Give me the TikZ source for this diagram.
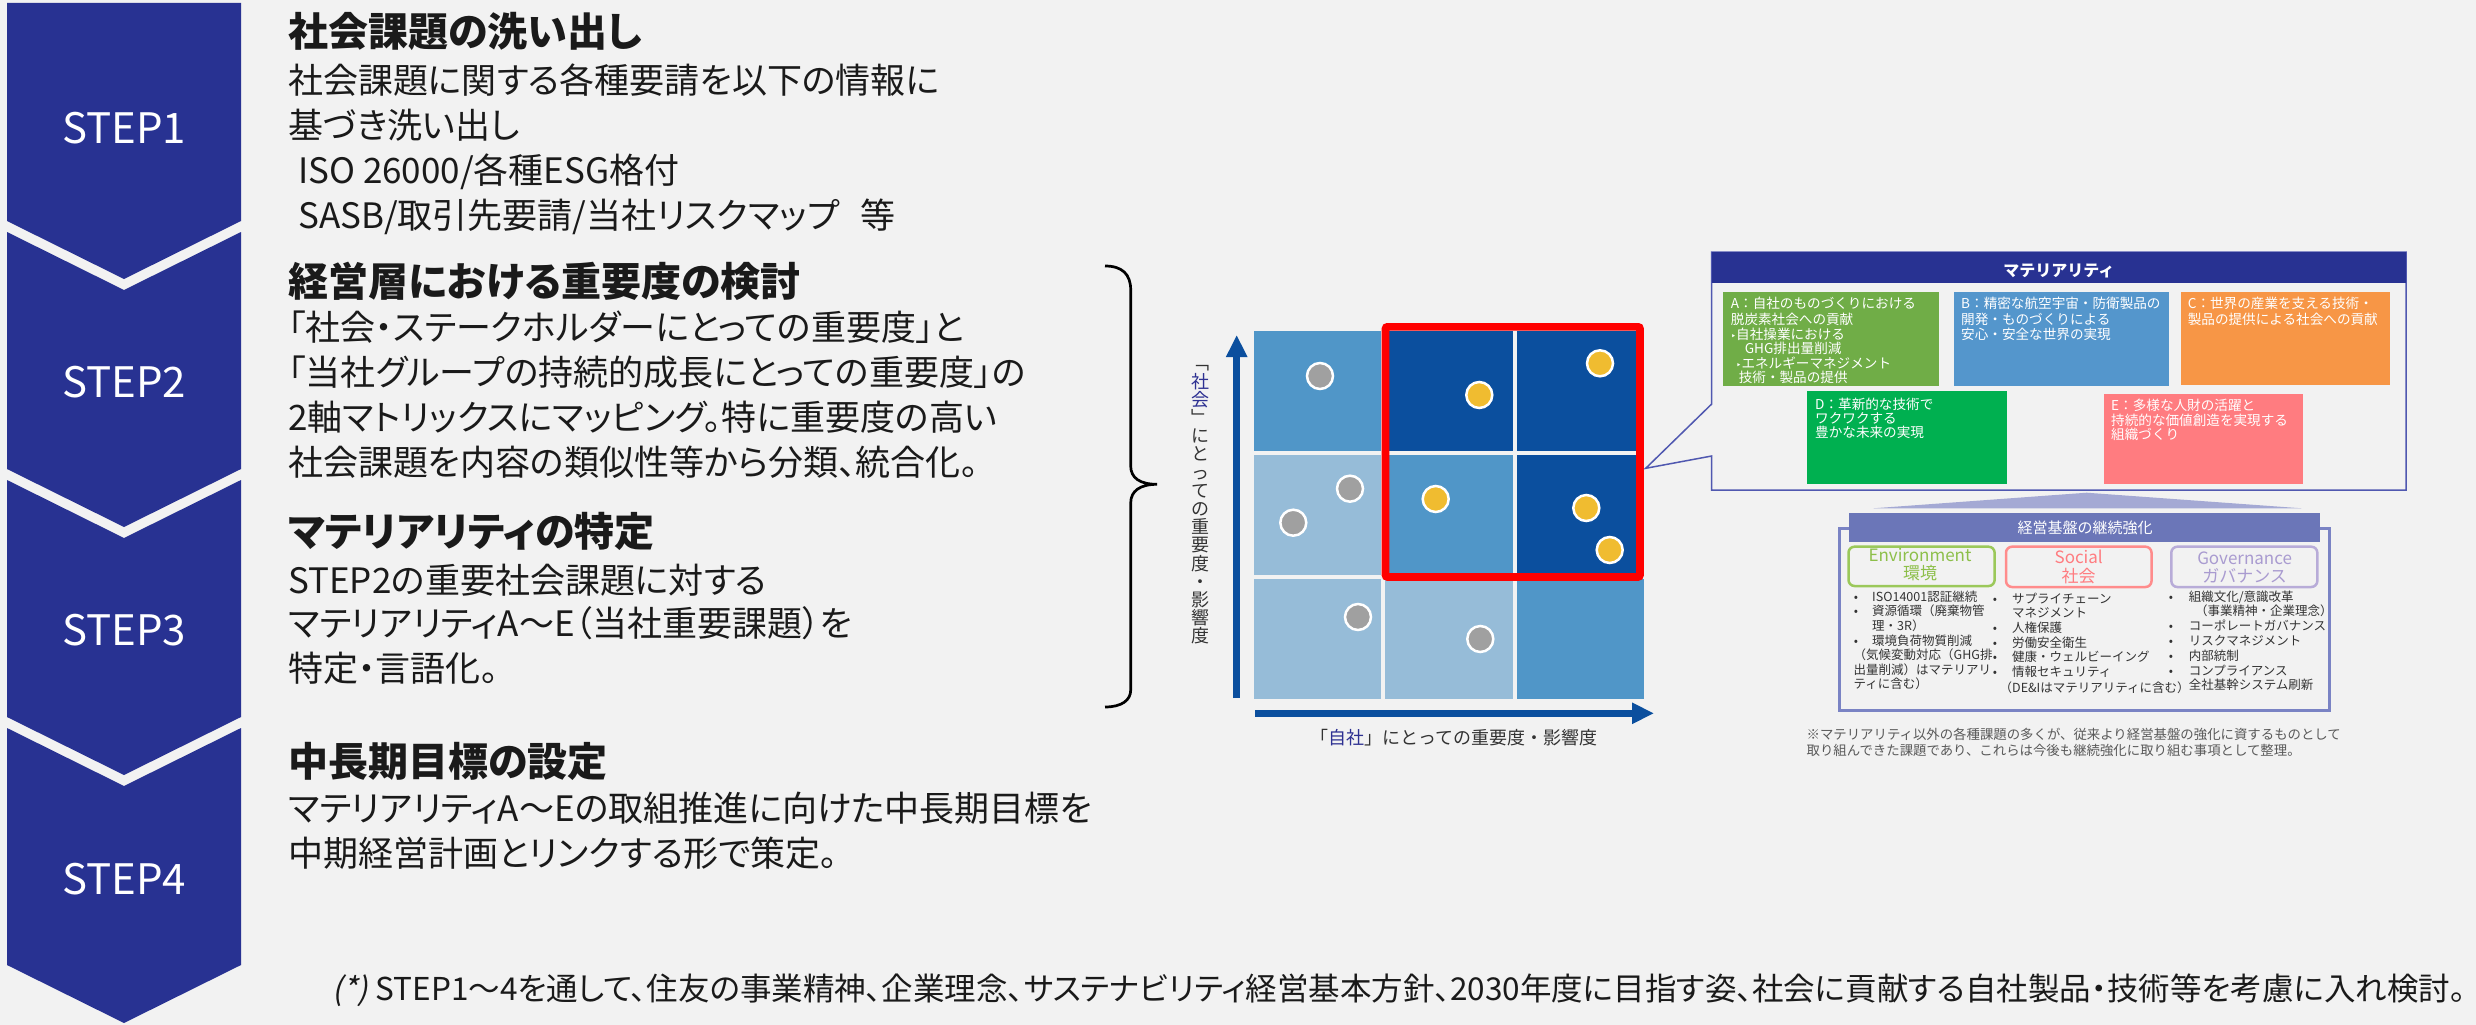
\documentclass[tikz,border=0pt]{standalone}
\usepackage{fontspec}
\usetikzlibrary{arrows.meta}
\setmainfont{Noto Sans CJK JP}[RawFeature=+palt]
\newfontfamily\jpm{Noto Sans CJK JP}
\newfontfamily\jpsl{Noto Sans CJK JP}[FakeSlant=0.2]
\newfontfamily\dv{DejaVu Sans}
\newcommand\fsz[1]{\fontsize{#1}{#1}\selectfont}
\definecolor{bg}{RGB}{242,242,242}
\definecolor{navy}{RGB}{40,50,146}
\definecolor{body}{RGB}{26,26,26}
\definecolor{mdark}{RGB}{11,79,158}
\definecolor{mmid}{RGB}{80,150,200}
\definecolor{mlight}{RGB}{150,188,216}
\definecolor{axtxt}{RGB}{51,51,51}
\definecolor{lblue}{RGB}{46,49,146}
\definecolor{cgray}{RGB}{160,160,160}
\definecolor{cyel}{RGB}{240,188,48}
\definecolor{cbord}{RGB}{80,88,176}
\definecolor{boxA}{RGB}{112,173,71}
\definecolor{boxB}{RGB}{84,150,204}
\definecolor{boxC}{RGB}{247,150,70}
\definecolor{boxD}{RGB}{0,176,80}
\definecolor{boxE}{RGB}{255,124,128}
\definecolor{hdr2}{RGB}{107,118,184}
\definecolor{tri}{RGB}{164,169,212}
\definecolor{obord}{RGB}{122,131,196}
\definecolor{envc}{RGB}{155,200,90}
\definecolor{envt}{RGB}{141,191,74}
\definecolor{socc}{RGB}{255,140,140}
\definecolor{soct}{RGB}{255,124,128}
\definecolor{govc}{RGB}{184,172,216}
\definecolor{govt}{RGB}{169,155,208}
\definecolor{note}{RGB}{89,89,89}
\definecolor{red0}{RGB}{255,0,0}
\begin{document}
\begin{tikzpicture}[x=1pt,y=-1pt,
  chev/.style={fill=navy},
  steplbl/.style={anchor=base, inner sep=0pt, font={\fsz{42}}, text=white},
  ttl/.style={anchor=base west, inner sep=0pt, font={\fsz{40}\bfseries}, text=body},
  lt/.style={anchor=base west, inner sep=0pt, font={\fsz{35}}, text=body},
  mt/.style={anchor=base west, inner sep=0pt, font={\jpm\fsz{13.6}}, text=white},
  bl/.style={anchor=base west, inner sep=0pt, font={\jpm\fsz{12.5}}, text=axtxt},
  bu/.style={anchor=base, inner sep=0pt, font={\jpm\fsz{12.5}}, text=axtxt},
  cat/.style={anchor=base, inner sep=0pt, font={\jpm\fsz{17}}},
  cell/.style={fill=#1},
  dotg/.style={fill=cgray, draw=white, line width=2.5pt},
  doty/.style={fill=cyel, draw=white, line width=2.5pt},
  axis/.style={draw=mdark, line width=7pt, -{Triangle[length=22pt,width=20pt]}},
  mbox/.style={fill=#1},
  catbox/.style={draw=#1, line width=2.5pt, rounded corners=6pt},
  nt/.style={anchor=base west, inner sep=0pt, font={\jpm\fsz{13.4}}, text=note}
]
\useasboundingbox (0,0) rectangle (2476,1025);
\fill[bg] (0,0) rectangle (2476,1025);

% ---- chevrons
\fill[chev] (7,3) -- (241,3) -- (241,221) -- (124,279) -- (7,221) -- cycle;
\fill[chev] (7,232) -- (124,290) -- (241,232) -- (241,469) -- (124,527) -- (7,469) -- cycle;
\fill[chev] (7,480) -- (124,538) -- (241,480) -- (241,717) -- (124,775) -- (7,717) -- cycle;
\fill[chev] (7,728) -- (124,786) -- (241,728) -- (241,965) -- (124,1023) -- (7,965) -- cycle;
\node[steplbl] (st1) at (124,143.7) {STEP1};
\node[steplbl] (st2) at (124,397) {STEP2};
\node[steplbl] (st3) at (124,645.4) {STEP3};
\node[steplbl] (st4) at (124,894.2) {STEP4};

% ---- left texts
\node[ttl] (s1t) at (288,46.5) {社会課題の洗い出し};
\node[lt] (s1a) at (288,93) {社会課題に関する各種要請を以下の情報に};
\node[lt] (s1b) at (288,138) {基づき洗い出し};
\node[lt] (s1c) at (298,183) {ISO 26000/各種ESG格付};
\node[lt] (s1d) at (298,228) {SASB/取引先要請/当社リスクマップ\hspace{0.6em}等};

\node[ttl] (s2t) at (288,296.5) {経営層における重要度の検討};
\node[lt] (s2a) at (288,340.5) {「社会・ステークホルダーにとっての重要度」と};
\node[lt] (s2b) at (288,385.5) {「当社グループの持続的成長にとっての重要度」の};
\node[lt] (s2c) at (288,430.5) {2軸マトリックスにマッピング。特に重要度の高い};
\node[lt] (s2d) at (288,475.5) {社会課題を内容の類似性等から分類、統合化。};

\node[ttl] (s3t) at (288,546.8) {マテリアリティの特定};
\node[lt] (s3a) at (288,593.8) {STEP2の重要社会課題に対する};
\node[lt] (s3b) at (288,636.2) {マテリアリティA～E（当社重要課題）を};
\node[lt] (s3c) at (288,681.4) {特定・言語化。};

\node[ttl] (s4t) at (288,776.3) {中長期目標の設定};
\node[lt] (s4a) at (288,821.5) {マテリアリティA～Eの取組推進に向けた中長期目標を};
\node[lt] (s4b) at (288,866.6) {中期経営計画とリンクする形で策定。};

\node[anchor=base east, inner sep=0pt, font={\fsz{31.5}}, text=body] (foot) at (2466,1000)
  {{\jpsl(*)} STEP1～4を通して、住友の事業精神、企業理念、サステナビリティ経営基本方針、2030年度に目指す姿、社会に貢献する自社製品・技術等を考慮に入れ検討。};

% ---- bracket
\draw[black, line width=2.7pt] (1105,266) .. controls (1122,266) and (1130.7,274) .. (1130.7,290)
  -- (1130.7,466) .. controls (1130.7,478) and (1140,484.3) .. (1157,484.3)
  .. controls (1140,484.3) and (1130.7,491) .. (1130.7,503)
  -- (1130.7,690) .. controls (1130.7,700) and (1122,707) .. (1105,707);

% ---- matrix
\fill[cell=mmid]   (1254,331) rectangle (1381.3,451);
\fill[cell=mdark]  (1385.3,331) rectangle (1512.7,451);
\fill[cell=mdark]  (1516.7,331) rectangle (1644,451);
\fill[cell=mlight] (1254,455) rectangle (1381.3,575);
\fill[cell=mmid]   (1385.3,455) rectangle (1512.7,575);
\fill[cell=mdark]  (1516.7,455) rectangle (1644,575);
\fill[cell=mlight] (1254,579) rectangle (1381.3,699);
\fill[cell=mlight] (1385.3,579) rectangle (1512.7,699);
\fill[cell=mmid]   (1516.7,579) rectangle (1644,699);
\draw[red0, line width=7.6pt, rounded corners=2pt] (1385.5,326.8) rectangle (1640,577);
\fill[dotg] (1320,376) circle (13pt);
\fill[dotg] (1350,488.7) circle (13pt);
\fill[dotg] (1293.3,522.7) circle (13pt);
\fill[dotg] (1358,617) circle (13pt);
\fill[dotg] (1480.3,639) circle (13pt);
\fill[doty] (1479.3,395) circle (13pt);
\fill[doty] (1600,363.3) circle (13pt);
\fill[doty] (1435.7,499) circle (13pt);
\fill[doty] (1586.3,508) circle (13pt);
\fill[doty] (1609.7,550) circle (13pt);
\coordinate (yb) at (1236.7,698);
\coordinate (yt) at (1236.7,335);
\coordinate (xb) at (1255,713.3);
\coordinate (xt) at (1654,713.3);
\draw[axis] (yb) -- (yt);
\draw[axis] (xb) -- (xt);
\node[anchor=center, inner sep=0pt, align=center, font={\jpm\fontsize{18}{18.2}\selectfont}, text=axtxt] (ylab) at (1200,505)
  {﹁\\{\color{lblue}社}\\{\color{lblue}会}\\﹂\\に\\と\\っ\\て\\の\\重\\要\\度\\・\\影\\響\\度};
\node[anchor=base, inner sep=0pt, font={\jpm\fsz{18}}, text=axtxt] (xlab) at (1454,744.7)
  {「{\color{lblue}自社}」にとっての重要度・影響度};

% ---- materiality callout
\draw[cbord, line width=1.5pt, fill=bg] (1711.7,404) -- (1711.7,252) -- (2406,252) -- (2406,490)
  -- (1711.7,490) -- (1711.7,456) -- (1645.7,468.3) -- cycle;
\fill[navy] (1711.7,252) rectangle (2406,283);
\node[anchor=base, inner sep=0pt, font={\jpm\bfseries\fsz{16}}, text=white] (mhdr) at (2058.8,276.5) {マテリアリティ};

\fill[mbox=boxA] (1723.3,292.3) rectangle (1939,385.7);
\fill[mbox=boxB] (1953.5,292.3) rectangle (2168.8,385.7);
\fill[mbox=boxC] (2181,291.7) rectangle (2389.6,385);
\fill[mbox=boxD] (1807.4,391.3) rectangle (2007,484.3);
\fill[mbox=boxE] (2104,394) rectangle (2302.5,484.3);

\node[mt] (a1) at (1730.7,308.3) {A：自社のものづくりにおける};
\node[mt] (a2) at (1730.7,324.3) {脱炭素社会への貢献};
\node[mt] (a3) at (1730.7,339.3) {{\dv\fsz{9}‣}自社操業における};
\node[mt] (a4) at (1744.6,353.3) {GHG排出量削減};
\node[mt] (a5) at (1736,368.3) {{\dv\fsz{9}‣}エネルギーマネジメント};
\node[mt] (a6) at (1738.6,382.3) {技術・製品の提供};

\node[mt] (b1) at (1961,308.3) {B：精密な航空宇宙・防衛製品の};
\node[mt] (b2) at (1961,324.3) {開発・ものづくりによる};
\node[mt] (b3) at (1961,339.3) {安心・安全な世界の実現};

\node[mt] (c1) at (2187.6,308.3) {C：世界の産業を支える技術・};
\node[mt] (c2) at (2187.6,324.3) {製品の提供による社会への貢献};

\node[mt] (d1) at (1815,409) {D：革新的な技術で};
\node[mt] (d2) at (1815,423.3) {ワクワクする};
\node[mt] (d3) at (1815,437.7) {豊かな未来の実現};

\node[mt] (e1) at (2111,410) {E：多様な人財の活躍と};
\node[mt] (e2) at (2111,425) {持続的な価値創造を実現する};
\node[mt] (e3) at (2111,439) {組織づくり};

% ---- foundation
\fill[tri] (1873.3,508.3) -- (2086.7,492.7) -- (2301.7,508.3) -- cycle;
\draw[obord, line width=3pt] (1839,528) rectangle (2329.5,710.7);
\fill[hdr2] (1849.3,513.3) rectangle (2320,541.7);
\node[anchor=base, inner sep=0pt, font={\jpm\fsz{15}}, text=white] (fhdr) at (2085,533.8) {経営基盤の継続強化};

\draw[catbox=envc] (1848.5,546.7) rectangle (1994.6,586);
\draw[catbox=socc] (2006,546.7) rectangle (2151.5,587);
\draw[catbox=govc] (2171.3,546.7) rectangle (2317.3,587);
\node[cat, text=envt] (env1) at (1920,561.8) {Environment};
\node[cat, text=envt] (env2) at (1920,579.6) {環境};
\node[cat, text=soct] (soc1) at (2078.7,563.3) {Social};
\node[cat, text=soct] (soc2) at (2078.7,582) {社会};
\node[cat, text=govt] (gov1) at (2244.6,564.6) {Governance};
\node[cat, text=govt] (gov2) at (2244.6,582) {ガバナンス};

% environment list
\node[bu] (eb1) at (1856,601.3) {•};
\node[bl] (el1) at (1872,601.3) {ISO14001認証継続};
\node[bu] (eb2) at (1856,615.3) {•};
\node[bl] (el2) at (1872,615.3) {資源循環（廃棄物管};
\node[bl] (el3) at (1872,630.3) {理・3R）};
\node[bu] (eb4) at (1856,645.3) {•};
\node[bl] (el4) at (1872,645.3) {環境負荷物質削減};
\node[bl] (el5) at (1853.5,659.6) {（気候変動対応（GHG排};
\node[bl] (el6) at (1853.5,674) {出量削減）はマテリアリ};
\node[bl] (el7) at (1853.5,688.6) {ティに含む）};

% social list
\node[bu] (sb1) at (1995,603) {•};
\node[bl] (sl1) at (2012,603) {サプライチェーン};
\node[bl] (sl2) at (2012,617.3) {マネジメント};
\node[bu] (sb3) at (1995,632) {•};
\node[bl] (sl3) at (2012,632) {人権保護};
\node[bu] (sb4) at (1995,647.3) {•};
\node[bl] (sl4) at (2012,647.3) {労働安全衛生};
\node[bu] (sb5) at (1995,661.3) {•};
\node[bl] (sl5) at (2012,661.3) {健康・ウェルビーイング};
\node[bu] (sb6) at (1995,676.3) {•};
\node[bl] (sl6) at (2012,676.3) {情報セキュリティ};
\node[bl] (sl7) at (1999.5,692) {（DE\&Iはマテリアリティに含む）};

% governance list
\node[bu] (gb1) at (2171,601.3) {•};
\node[bl] (gl1) at (2188.6,601.3) {組織文化/意識改革};
\node[bl] (gl2) at (2195,615.3) {（事業精神・企業理念）};
\node[bu] (gb3) at (2171,630.6) {•};
\node[bl] (gl3) at (2188.6,630.6) {コーポレートガバナンス};
\node[bu] (gb4) at (2171,645.3) {•};
\node[bl] (gl4) at (2188.6,645.3) {リスクマネジメント};
\node[bu] (gb5) at (2171,660.3) {•};
\node[bl] (gl5) at (2188.6,660.3) {内部統制};
\node[bu] (gb6) at (2171,675.3) {•};
\node[bl] (gl6) at (2188.6,675.3) {コンプライアンス};
\node[bl] (gl7) at (2188.6,689.6) {全社基幹システム刷新};

% note
\node[nt] (n1) at (1806.4,739.8) {※マテリアリティ以外の各種課題の多くが、従来より経営基盤の強化に資するものとして};
\node[nt] (n2) at (1806.4,755.5) {取り組んできた課題であり、これらは今後も継続強化に取り組む事項として整理。};
\end{tikzpicture}
\end{document}
